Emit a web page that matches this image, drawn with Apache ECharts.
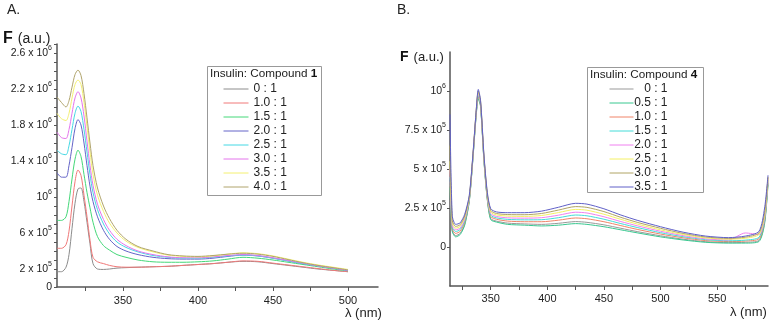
<!DOCTYPE html>
<html>
<head>
<meta charset="utf-8">
<script src="https://cdn.jsdelivr.net/npm/echarts@6/dist/echarts.min.js"></script>
<style>
  html, body { margin: 0; padding: 0; background: #fff; }
  #main { width: 773px; height: 322px; }
</style>
</head>
<body>
<div id="main"></div>
<script>
// ---- panel A : Insulin / Compound 1 ----
var wlA = [306, 309, 312, 314, 316, 318, 320, 322, 324, 326, 328, 330, 333, 337, 341, 346, 352, 360, 370, 380, 390, 400, 410, 420, 430, 440, 450, 460, 470, 480, 490, 500];
var a0  = [1.7e5, 1.7e5, 2.2e5, 3.6e5, 6.5e5, 9.3e5, 1.09e6, 1.1e6, 9.5e5, 7.2e5, 4.8e5, 2.6e5, 2.0e5, 1.95e5, 2.0e5, 2.1e5, 2.15e5, 2.2e5, 2.25e5, 2.3e5, 2.4e5, 2.5e5, 2.6e5, 2.75e5, 2.85e5, 2.8e5, 2.6e5, 2.4e5, 2.2e5, 2.0e5, 1.85e5, 1.7e5];
var a10 = [4.3e5, 4.3e5, 4.7e5, 6.2e5, 9.0e5, 1.17e6, 1.3e6, 1.24e6, 1.02e6, 7.8e5, 5.2e5, 3.3e5, 2.8e5, 2.6e5, 2.4e5, 2.25e5, 2.2e5, 2.2e5, 2.25e5, 2.3e5, 2.4e5, 2.5e5, 2.6e5, 2.75e5, 2.9e5, 2.85e5, 2.65e5, 2.45e5, 2.25e5, 2.05e5, 1.85e5, 1.7e5];
var a15 = [7.4e5, 7.4e5, 7.8e5, 9.5e5, 1.2e6, 1.42e6, 1.52e6, 1.45e6, 1.25e6, 1.05e6, 8.8e5, 7.2e5, 5.6e5, 4.6e5, 4.1e5, 3.6e5, 3.3e5, 3.0e5, 2.8e5, 2.75e5, 2.75e5, 2.8e5, 2.9e5, 3.1e5, 3.3e5, 3.2e5, 3.0e5, 2.75e5, 2.5e5, 2.25e5, 2.0e5, 1.8e5];
var a20 = [1.27e6, 1.22e6, 1.22e6, 1.35e6, 1.55e6, 1.76e6, 1.86e6, 1.8e6, 1.6e6, 1.35e6, 1.12e6, 9.5e5, 7.8e5, 6.3e5, 5.3e5, 4.5e5, 4.0e5, 3.6e5, 3.3e5, 3.15e5, 3.1e5, 3.1e5, 3.2e5, 3.4e5, 3.55e5, 3.45e5, 3.2e5, 2.9e5, 2.6e5, 2.35e5, 2.1e5, 1.85e5];
var a25 = [1.52e6, 1.48e6, 1.47e6, 1.57e6, 1.75e6, 1.93e6, 2.01e6, 1.95e6, 1.75e6, 1.5e6, 1.25e6, 1.05e6, 8.6e5, 7.0e5, 5.9e5, 5.0e5, 4.4e5, 3.9e5, 3.5e5, 3.3e5, 3.2e5, 3.2e5, 3.3e5, 3.45e5, 3.55e5, 3.45e5, 3.2e5, 2.9e5, 2.6e5, 2.35e5, 2.1e5, 1.85e5];
var a30 = [1.72e6, 1.66e6, 1.65e6, 1.75e6, 1.93e6, 2.1e6, 2.17e6, 2.1e6, 1.9e6, 1.62e6, 1.35e6, 1.13e6, 9.2e5, 7.5e5, 6.3e5, 5.3e5, 4.6e5, 4.0e5, 3.6e5, 3.35e5, 3.25e5, 3.25e5, 3.35e5, 3.5e5, 3.6e5, 3.5e5, 3.25e5, 2.95e5, 2.65e5, 2.35e5, 2.1e5, 1.85e5];
var a35 = [1.93e6, 1.87e6, 1.85e6, 1.93e6, 2.1e6, 2.25e6, 2.3e6, 2.25e6, 2.05e6, 1.78e6, 1.5e6, 1.25e6, 1.02e6, 8.4e5, 7.1e5, 6.0e5, 5.1e5, 4.4e5, 3.9e5, 3.55e5, 3.4e5, 3.35e5, 3.45e5, 3.65e5, 3.8e5, 3.7e5, 3.45e5, 3.1e5, 2.75e5, 2.45e5, 2.2e5, 1.95e5];
var a40 = [2.11e6, 2.05e6, 2.0e6, 2.07e6, 2.22e6, 2.36e6, 2.41e6, 2.35e6, 2.15e6, 1.88e6, 1.6e6, 1.35e6, 1.1e6, 9.0e5, 7.6e5, 6.3e5, 5.3e5, 4.5e5, 4.0e5, 3.6e5, 3.45e5, 3.4e5, 3.5e5, 3.65e5, 3.75e5, 3.65e5, 3.4e5, 3.05e5, 2.7e5, 2.4e5, 2.15e5, 1.9e5];
var namesA = ['0 : 1', '1.0 : 1', '1.5 : 1', '2.0 : 1', '2.5 : 1', '3.0 : 1', '3.5 : 1', '4.0 : 1'];
var colorsA = ['#8c8c8c', '#f07878', '#44d878', '#6464c8', '#44d8e4', '#e474ec', '#f4f070', '#b0a46c'];
var valsA = [a0, a10, a15, a20, a25, a30, a35, a40];

var xTicksA = [325, 350, 375, 400, 425, 450, 475, 500];
var xLabelsA = [350, 400, 450, 500];
var yLabelsA = [0, 2e5, 6e5, 1e6, 1.4e6, 1.8e6, 2.2e6, 2.6e6];
var yTextA = ['0', '2 x 10|5', '6 x 10|5', '10|6', '1.4 x 10|6', '1.8 x 10|6', '2.2 x 10|6', '2.6 x 10|6'];

// ---- panel B : Insulin / Compound 4 ----
var wlB = [314, 316, 319, 323, 327, 331, 334, 337, 339, 341, 344, 347, 350, 355, 365, 380, 395, 410, 425, 435, 450, 465, 480, 500, 520, 540, 560, 575, 587, 592, 595];
var b0  = [4.0e5, 1.05e5, 7.3e4, 8.8e4, 1.47e5, 2.95e5, 5.45e5, 8.35e5, 9.6e5, 9.05e5, 5.55e5, 3.05e5, 1.82e5, 1.66e5, 1.53e5, 1.48e5, 1.45e5, 1.52e5, 1.63e5, 1.58e5, 1.42e5, 1.2e5, 9.8e4, 7.2e4, 5e4, 3.4e4, 2.8e4, 3e4, 4.2e4, 1.6e5, 4.1e5];
var b05 = [3.8e5, 1.0e5, 6.5e4, 8e4, 1.4e5, 2.9e5, 5.4e5, 8.3e5, 9.5e5, 9.0e5, 5.5e5, 3.0e5, 1.75e5, 1.6e5, 1.45e5, 1.4e5, 1.35e5, 1.4e5, 1.5e5, 1.45e5, 1.3e5, 1.1e5, 9e4, 6.5e4, 4.5e4, 3e4, 2.5e4, 2.5e4, 3.5e4, 1.5e5, 4.0e5];
var b10 = [4.2e5, 1.15e5, 8.7e4, 1.01e5, 1.6e5, 3.0e5, 5.5e5, 8.4e5, 9.7e5, 9.1e5, 5.6e5, 3.1e5, 1.95e5, 1.78e5, 1.66e5, 1.62e5, 1.62e5, 1.72e5, 1.86e5, 1.81e5, 1.62e5, 1.37e5, 1.12e5, 8.3e4, 5.9e4, 4.1e4, 3.5e4, 3.8e4, 5.3e4, 1.7e5, 4.2e5];
var b15 = [4.5e5, 1.25e5, 9.9e4, 1.12e5, 1.69e5, 3.05e5, 5.5e5, 8.45e5, 9.75e5, 9.15e5, 5.65e5, 3.2e5, 2.04e5, 1.87e5, 1.77e5, 1.74e5, 1.75e5, 1.88e5, 2.05e5, 2.0e5, 1.78e5, 1.5e5, 1.24e5, 9.2e4, 6.6e4, 4.7e4, 4e4, 4.4e4, 6.2e4, 1.8e5, 4.3e5];
var b20 = [5.0e5, 1.35e5, 1.1e5, 1.22e5, 1.79e5, 3.1e5, 5.55e5, 8.5e5, 9.85e5, 9.2e5, 5.7e5, 3.25e5, 2.14e5, 1.96e5, 1.87e5, 1.85e5, 1.88e5, 2.04e5, 2.23e5, 2.18e5, 1.94e5, 1.63e5, 1.35e5, 1.01e5, 7.3e4, 5.2e4, 4.5e4, 9e4, 8e4, 1.9e5, 4.4e5];
var b25 = [5.5e5, 1.5e5, 1.21e5, 1.33e5, 1.89e5, 3.15e5, 5.6e5, 8.55e5, 9.9e5, 9.3e5, 5.75e5, 3.35e5, 2.24e5, 2.06e5, 1.98e5, 1.96e5, 2.02e5, 2.21e5, 2.41e5, 2.36e5, 2.1e5, 1.77e5, 1.46e5, 1.1e5, 8e4, 5.8e4, 5e4, 5.6e4, 8e4, 2.0e5, 4.45e5];
var b30 = [6.5e5, 1.7e5, 1.32e5, 1.43e5, 1.99e5, 3.2e5, 5.65e5, 8.6e5, 1.0e6, 9.35e5, 5.85e5, 3.4e5, 2.34e5, 2.15e5, 2.08e5, 2.07e5, 2.15e5, 2.37e5, 2.59e5, 2.54e5, 2.27e5, 1.9e5, 1.57e5, 1.2e5, 8.7e4, 6.4e4, 5.5e4, 6.3e4, 9e4, 2.2e5, 4.5e5];
var b35 = [8.5e5, 2.0e5, 1.45e5, 1.55e5, 2.1e5, 3.3e5, 5.7e5, 8.6e5, 1.01e6, 9.4e5, 5.9e5, 3.5e5, 2.45e5, 2.25e5, 2.2e5, 2.2e5, 2.3e5, 2.55e5, 2.8e5, 2.75e5, 2.45e5, 2.05e5, 1.7e5, 1.3e5, 9.5e4, 7e4, 6e4, 7e4, 1.0e5, 2.5e5, 4.6e5];
var namesB = ['0 : 1', '0.5 : 1', '1.0 : 1', '1.5 : 1', '2.0 : 1', '2.5 : 1', '3.0 : 1', '3.5 : 1'];
var colorsB = ['#999999', '#38c890', '#f08468', '#44dcd8', '#f080f0', '#f4f064', '#b0a464', '#6060c8'];
var valsB = [b0, b05, b10, b15, b20, b25, b30, b35];

var xTicksB = [325, 350, 375, 400, 425, 450, 475, 500, 525, 550, 575];
var xLabelsB = [350, 400, 450, 500, 550];
var yLabelsB = [0, 2.5e5, 5e5, 7.5e5, 1e6];
var yTextB = ['0', '2.5 x 10|5', '5 x 10|5', '7.5 x 10|5', '10|6'];

function pairs(wl, v) { return wl.map(function (x, i) { return [x, v[i]]; }); }
function supLabel(ticks, texts) {
    return function (v) {
        var i = ticks.indexOf(v);
        if (i < 0) return '';
        var p = texts[i].split('|');
        return p.length > 1 ? '{n|' + p[0] + '}{e|' + p[1] + '}' : '{n|' + p[0] + '}';
    };
}
var supRich = {
    n: { fontSize: 10.5, lineHeight: 16, color: '#222' },
    e: { fontSize: 7, lineHeight: 8, verticalAlign: 'top', color: '#222' }
};

var series = [];
namesA.forEach(function (n, i) {
    series.push({
        name: 'A' + n, type: 'line', xAxisIndex: 0, yAxisIndex: 0,
        data: pairs(wlA, valsA[i]), symbol: 'none', smooth: 0.3,
        lineStyle: { width: 1, color: colorsA[i] }, itemStyle: { color: colorsA[i] }
    });
});
namesB.forEach(function (n, i) {
    series.push({
        name: 'B' + n, type: 'line', xAxisIndex: 1, yAxisIndex: 1,
        data: pairs(wlB, valsB[i]), symbol: 'none', smooth: 0.25,
        lineStyle: { width: 1, color: colorsB[i] }, itemStyle: { color: colorsB[i] }
    });
});

var axisLine = { show: true, onZero: false, lineStyle: { color: '#555', width: 1.5 } };
var tickLine = { color: '#555', width: 1 };

var chart = echarts.init(document.getElementById('main'));
var option = {
    animation: false,
    backgroundColor: '#fff',
    textStyle: { fontFamily: 'Liberation Sans, Arial, sans-serif' },
    title: [
        { text: 'A.', left: 7, top: 3, padding: 0, textStyle: { fontSize: 14, fontWeight: 'normal', color: '#222' } },
        { text: 'B.', left: 397, top: 3, padding: 0, textStyle: { fontSize: 14, fontWeight: 'normal', color: '#222' } },
        { text: '{f|F} {u|(a.u.)}', left: 3, top: 30, padding: 0, textStyle: { fontWeight: 'normal', rich: {
            f: { fontSize: 16, fontWeight: 'bold', color: '#111' },
            u: { fontSize: 14, fontWeight: 'normal', color: '#222' } } } },
        { text: '{f|F} {u|(a.u.)}', left: 400, top: 48, padding: 0, textStyle: { fontWeight: 'normal', rich: {
            f: { fontSize: 14, fontWeight: 'bold', color: '#111' },
            u: { fontSize: 13, fontWeight: 'normal', color: '#222' } } } },
        { text: 'λ (nm)', left: 345, top: 307, padding: 0, textStyle: { fontSize: 13, fontWeight: 'normal', color: '#222' } },
        { text: 'λ (nm)', left: 730, top: 306, padding: 0, textStyle: { fontSize: 13, fontWeight: 'normal', color: '#222' } },
        { text: '{n|Insulin: Compound }{b|1}', left: 210, top: 68, padding: 0, textStyle: { fontWeight: 'normal', rich: {
            n: { fontSize: 11.7, fontWeight: 'normal', color: '#222' }, b: { fontSize: 11.7, fontWeight: 'bold', color: '#111' } } } },
        { text: '{n|Insulin: Compound }{b|4}', left: 590, top: 69, padding: 0, textStyle: { fontWeight: 'normal', rich: {
            n: { fontSize: 11.7, fontWeight: 'normal', color: '#222' }, b: { fontSize: 11.7, fontWeight: 'bold', color: '#111' } } } }
    ],
    graphic: [
        { type: 'rect', shape: { x: 207.5, y: 66.5, width: 114, height: 129 }, style: { fill: 'none', stroke: '#999', lineWidth: 1 } },
        { type: 'rect', shape: { x: 587.5, y: 67.5, width: 116, height: 125 }, style: { fill: 'none', stroke: '#999', lineWidth: 1 } }
    ],
    legend: [
        {
            data: namesA.map(function (n) { return 'A' + n; }),
            orient: 'vertical', left: 223, top: 82, padding: 0,
            itemWidth: 25, itemHeight: 14, itemGap: 0, selectedMode: false,
            itemStyle: { opacity: 0 }, lineStyle: { width: 1 },
            formatter: function (n) { return n.slice(1); },
            textStyle: { fontSize: 12, lineHeight: 14, color: '#222' }
        },
        {
            data: namesB.map(function (n) { return 'B' + n; }),
            orient: 'vertical', left: 609, top: 82, padding: 0,
            itemWidth: 24, itemHeight: 13.7, itemGap: 0, selectedMode: false,
            itemStyle: { opacity: 0 }, lineStyle: { width: 1 },
            formatter: function (n) { return '{r|' + n.slice(1) + '}'; },
            textStyle: { fontSize: 12, lineHeight: 14, color: '#222',
                rich: { r: { width: 29, align: 'right', fontSize: 12, color: '#222' } } }
        }
    ],
    grid: [
        { left: 57, top: 44, width: 321, height: 243 },
        { left: 450, top: 52, width: 318, height: 234 }
    ],
    xAxis: [
        {
            type: 'value', gridIndex: 0, min: 306, max: 520,
            axisLine: axisLine, splitLine: { show: false },
            axisTick: { show: true, length: 4, customValues: xTicksA, lineStyle: tickLine },
            axisLabel: { customValues: xLabelsA, fontSize: 11, color: '#222', margin: 8 }
        },
        {
            type: 'value', gridIndex: 1, min: 314, max: 595,
            axisLine: axisLine, splitLine: { show: false },
            axisTick: { show: true, length: 4, customValues: xTicksB, lineStyle: tickLine },
            axisLabel: { customValues: xLabelsB, fontSize: 11, color: '#222', margin: 7 }
        }
    ],
    yAxis: [
        {
            type: 'value', gridIndex: 0, min: 0, max: 2.7e6, interval: 1e5,
            axisLine: axisLine, splitLine: { show: false },
            axisTick: { show: true, length: 3, lineStyle: tickLine },
            axisLabel: { customValues: yLabelsA, margin: 5, formatter: supLabel(yLabelsA, yTextA), rich: supRich }
        },
        {
            type: 'value', gridIndex: 1, min: -2.5e5, max: 1.25e6, interval: 2.5e5,
            axisLine: axisLine, splitLine: { show: false },
            axisTick: { show: true, length: 3, customValues: yLabelsB, lineStyle: tickLine },
            axisLabel: { customValues: yLabelsB, margin: 4, formatter: supLabel(yLabelsB, yTextB), rich: supRich }
        }
    ],
    series: series
};
chart.setOption(option);
</script>
</body>
</html>
